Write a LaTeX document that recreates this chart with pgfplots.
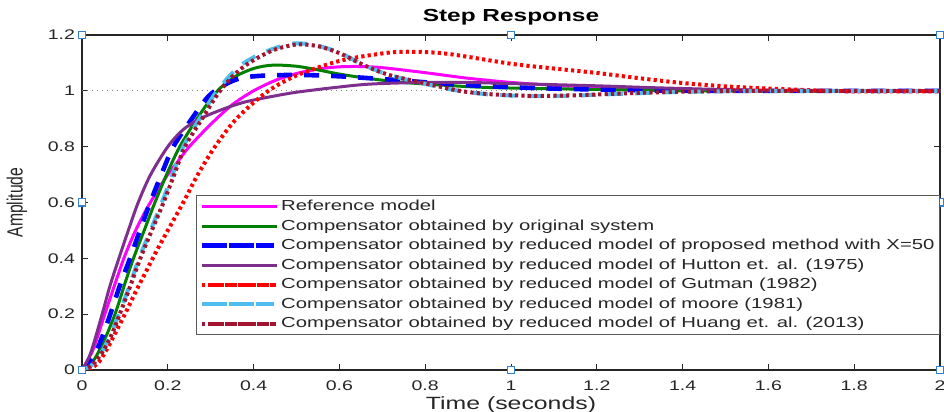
\documentclass[border=0pt]{standalone}
\usepackage{fontspec}
\setmainfont{Liberation Sans}[FakeStretch=1.4]
\newfontfamily\plainfont{Liberation Sans}
\usepackage{pgfplots}
\pgfplotsset{compat=1.18}
\definecolor{mmag}{rgb}{1,0,1}
\definecolor{mpurple}{rgb}{0.494,0.184,0.556}
\definecolor{mcyan}{rgb}{0.301,0.745,0.933}
\definecolor{mdred}{rgb}{0.635,0.078,0.184}
\definecolor{mgreen}{rgb}{0,0.5,0}
\definecolor{axgray}{rgb}{0.15,0.15,0.15}
\definecolor{hblue}{rgb}{0.2,0.5,0.8}
\begin{document}
\begin{tikzpicture}
\begin{axis}[
  scale only axis,
  width=429bp, height=167.5bp,
  xmin=0, xmax=2, ymin=0, ymax=1.2,
  xtick={0,0.2,...,2.01}, ytick={0,0.2,...,1.21},
  tick align=inside,
  major tick length=3bp,
  axis line style={axgray, line width=0.6bp},
  every tick/.style={axgray, line width=0.5bp},
  /pgf/number format/assume math mode=true,
  tick label style={font=\fontsize{7}{8}\selectfont, text=axgray},
  xticklabel style={yshift=-2bp},
  title={Step Response},
  title style={font=\bfseries\fontsize{8.75}{10}\selectfont, text=black, at={(0.5,1)}, anchor=south, yshift=-4.5bp},
  xlabel={Time (seconds)},
  xlabel style={font=\fontsize{8.9}{10}\selectfont, text=axgray, yshift=4bp},
  ylabel={\scalebox{1}[1.4]{\plainfont\fontsize{7.9}{9}\selectfont Amplitude}},
  ylabel style={text=axgray, at={(axis description cs:-0.0758,0.5)}, anchor=center},
  clip mode=individual,
  legend cell align=left,
  legend image code/.code={\path (0bp,0bp) -- (37.5bp,0bp); \draw[#1] (5bp,0bp) -- (36bp,0bp);},
  legend style={at={(axis description cs:0.1329,0.522)}, anchor=north west,
    draw=black!65, line width=0.6bp, fill=white, inner xsep=1.5bp, inner ysep=1bp,
    font=\fontsize{7.27}{8}\selectfont, text=black!85, row sep=0.75bp,
    nodes={inner sep=1bp, text height=5.4bp, text depth=1.6bp}},
]
\addplot[gray, dotted, line width=0.5bp, forget plot] coordinates {(0,1) (2,1)};
% Reference model
\addplot[mmag, line width=1.5bp, smooth] coordinates {
(0,0) (0.025,0.07) (0.05,0.185) (0.075,0.3) (0.1,0.41) (0.125,0.5) (0.15,0.575)
(0.175,0.64) (0.2,0.70) (0.225,0.75) (0.25,0.80) (0.3,0.88) (0.35,0.95) (0.4,1.0)
(0.45,1.037) (0.5,1.062) (0.55,1.078) (0.6,1.086) (0.65,1.087) (0.7,1.083) (0.8,1.065)
(0.9,1.045) (1.0,1.03) (1.1,1.02) (1.2,1.013) (1.4,1.005) (1.6,1.0) (1.8,0.999) (2,1.0)};
% original system
\addplot[mgreen, line width=1.5bp, smooth] coordinates {
(0,0) (0.025,0.03) (0.05,0.1) (0.077,0.2) (0.1,0.31) (0.12,0.4) (0.145,0.5) (0.17,0.6)
(0.2,0.71) (0.228,0.8) (0.268,0.9) (0.31,0.99) (0.35,1.045) (0.4,1.08) (0.445,1.092)
(0.5,1.088) (0.55,1.075) (0.6,1.06) (0.66,1.046) (0.75,1.03) (0.9,1.015) (1.0,1.01)
(1.2,1.005) (1.4,1.0) (1.6,0.999) (2,1.0)};
% proposed
\addplot[blue, line width=2.3bp, dash pattern=on 7.5bp off 6bp, smooth] coordinates {
(0,0) (0.025,0.04) (0.05,0.13) (0.066,0.2) (0.09,0.31) (0.112,0.4) (0.135,0.5) (0.159,0.6)
(0.185,0.7) (0.213,0.8) (0.256,0.9) (0.298,0.985) (0.35,1.035) (0.4,1.052) (0.5,1.057)
(0.6,1.052) (0.72,1.04) (0.85,1.025) (0.97,1.015) (1.1,1.008) (1.3,1.002) (1.5,1.0) (2,1.0)};
% Hutton
\addplot[mpurple, line width=1.5bp, smooth] coordinates {
(0,0) (0.02,0.06) (0.047,0.2) (0.065,0.3) (0.086,0.4) (0.108,0.5) (0.131,0.6) (0.16,0.7)
(0.2,0.8) (0.235,0.86) (0.275,0.9) (0.33,0.935) (0.38,0.96) (0.44,0.979) (0.5,0.995)
(0.59,1.012) (0.67,1.024) (0.79,1.03) (0.9,1.03) (1.0,1.026) (1.2,1.018) (1.36,1.01)
(1.6,1.002) (2,1.0)};
% Gutman
\addplot[red, line width=2bp, dash pattern=on 1.6bp off 1.6bp, smooth] coordinates {
(0,0) (0.02,0.005) (0.04,0.03) (0.06,0.08) (0.08,0.14) (0.1,0.2) (0.125,0.28) (0.15,0.355)
(0.175,0.43) (0.2,0.5) (0.236,0.6) (0.27,0.7) (0.31,0.8) (0.36,0.9) (0.43,0.995) (0.5,1.055)
(0.6,1.107) (0.7,1.134) (0.76,1.14) (0.85,1.133) (1.0,1.097) (1.1,1.08) (1.2,1.064)
(1.3,1.045) (1.4,1.028) (1.5,1.016) (1.6,1.008) (1.7,1.002) (1.8,0.998) (2,0.998)};
% moore
\addplot[mcyan, line width=2bp, dash pattern=on 7.5bp off 6bp, smooth] coordinates {
(0,0) (0.025,0.02) (0.05,0.075) (0.07,0.14) (0.086,0.2) (0.108,0.29) (0.133,0.4) (0.157,0.49)
(0.186,0.6) (0.211,0.7) (0.236,0.8) (0.274,0.9) (0.31,0.99) (0.345,1.055) (0.375,1.097)
(0.41,1.128) (0.45,1.153) (0.495,1.17) (0.545,1.163) (0.6,1.137) (0.66,1.09) (0.72,1.055)
(0.82,1.018) (0.88,1.0) (0.95,0.987) (1.05,0.981) (1.15,0.983) (1.25,0.989) (1.4,0.996)
(1.6,1.0) (2,1.0)};
% Huang
\addplot[mdred, line width=2bp, dash pattern=on 1.6bp off 1.6bp, smooth] coordinates {
(0,0) (0.025,0.02) (0.05,0.07) (0.07,0.13) (0.088,0.2) (0.11,0.29) (0.136,0.4) (0.16,0.49)
(0.19,0.6) (0.215,0.7) (0.24,0.8) (0.28,0.9) (0.317,0.99) (0.35,1.05) (0.38,1.09)
(0.415,1.123) (0.45,1.148) (0.5,1.166) (0.55,1.16) (0.6,1.135) (0.66,1.09) (0.72,1.055)
(0.82,1.02) (0.88,1.0) (0.95,0.988) (1.05,0.982) (1.15,0.984) (1.25,0.99) (1.4,0.997)
(1.6,1.0) (2,1.0)};
\addplot[only marks, forget plot, mark=square*, mark size=1.8bp,
  mark options={fill=white, draw=hblue, line width=0.6bp}] coordinates {
(0,0) (1,0) (2,0) (0,0.6) (2,0.6) (0,1.2) (1,1.2) (2,1.2)};
\legend{Reference model,
Compensator obtained by original system,
Compensator obtained by reduced model of proposed method with X=50,
Compensator obtained by reduced model of Hutton et. al. (1975),
Compensator obtained by reduced model of Gutman (1982),
Compensator obtained by reduced model of moore (1981),
Compensator obtained by reduced model of Huang et. al. (2013)}
\end{axis}
\pgfresetboundingbox
\path[use as bounding box] (-41bp,-21bp) rectangle (431bp,185bp);
\end{tikzpicture}
\end{document}
